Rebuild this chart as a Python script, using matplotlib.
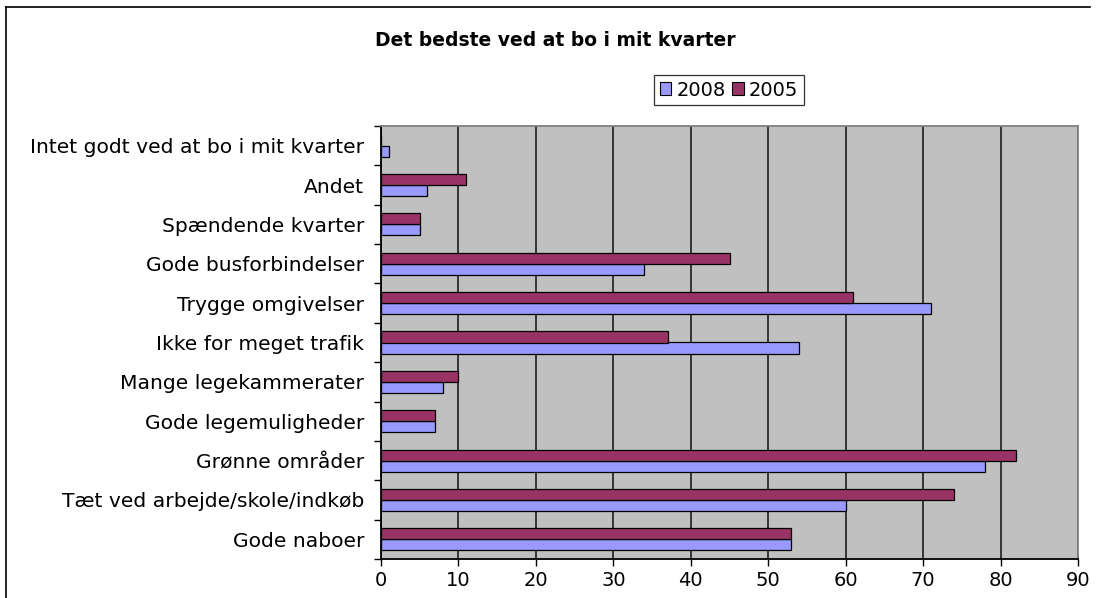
import numpy as np
import matplotlib
matplotlib.use("Agg")
import matplotlib.pyplot as plt
from matplotlib.lines import Line2D
from matplotlib.patches import Patch

# data (bottom to top, as drawn)
categories = ["Gode naboer", "Tæt ved arbejde/skole/indkøb", "Grønne områder",
              "Gode legemuligheder", "Mange legekammerater", "Ikke for meget trafik",
              "Trygge omgivelser", "Gode busforbindelser", "Spændende kvarter",
              "Andet", "Intet godt ved at bo i mit kvarter"]
values_2008 = [53, 60, 78, 7, 8, 54, 71, 34, 5, 6, 1]
values_2005 = [53, 74, 82, 7, 10, 37, 61, 45, 5, 11, 0]
x_ticks = list(range(0, 91, 10))

COLOR_2008 = "#9999FF"
COLOR_2005 = "#993366"
PLOT_BG = "#C0C0C0"

plt.rcParams['font.family'] = ['DejaVu Sans']

fig = plt.figure(figsize=(10.96, 5.98), dpi=100)
ax = fig.add_axes([381/1096, 1 - 559/598, (1078 - 381)/1096, (559 - 126)/598])
ax.set_facecolor(PLOT_BG)

y = np.arange(len(categories))
h = 0.28
ax.barh(y - h/2, values_2008, height=h, color=COLOR_2008, edgecolor="black", linewidth=0.9, zorder=3)
ax.barh(y + h/2, values_2005, height=h, color=COLOR_2005, edgecolor="black", linewidth=0.9, zorder=3)

ax.set_xlim(0, 90)
ax.set_ylim(-0.5, len(categories) - 0.5)
ax.set_xticks(x_ticks)
ax.tick_params(axis='x', length=5, width=1, direction='out', labelsize=14, pad=4)
ax.xaxis.grid(True, color="#2a2a2a", linewidth=1.3, zorder=1)
ax.set_axisbelow(True)

ax.set_yticks(y)
ax.set_yticklabels(categories)
ax.tick_params(axis='y', which='major', length=0, labelsize=14.6, pad=12)
ax.set_yticks(np.arange(-0.5, len(categories)), minor=True)
ax.tick_params(axis='y', which='minor', length=5, width=1, direction='out')

ax.spines['left'].set_color("black")
ax.spines['bottom'].set_color("black")
ax.spines['top'].set_color("#808080")
ax.spines['right'].set_color("#808080")
for s in ax.spines.values():
    s.set_linewidth(1.3)

fig.text(555/1096, 1 - 40/598, "Det bedste ved at bo i mit kvarter", ha='center', va='center',
         fontsize=13.5, fontweight='bold')

handles = [Patch(facecolor=COLOR_2008, edgecolor="black", linewidth=0.8, label="2008"),
           Patch(facecolor=COLOR_2005, edgecolor="black", linewidth=0.8, label="2005")]
leg = fig.legend(handles=handles, loc='center', bbox_to_anchor=(729/1096, 1 - 90/598), ncol=2,
                 fontsize=14, frameon=True, fancybox=False, handlelength=0.6, handleheight=0.6,
                 handletextpad=0.25, columnspacing=0.35, borderpad=0.3, borderaxespad=0)
leg.get_frame().set_edgecolor("black")
leg.get_frame().set_linewidth(0.9)

# chart frame (top and left edges visible)
fig.add_artist(Line2D([6/1096, 1090/1096], [1 - 7/598, 1 - 7/598], transform=fig.transFigure,
                      color="black", linewidth=1.2))
fig.add_artist(Line2D([6/1096, 6/1096], [1 - 7/598, 0], transform=fig.transFigure,
                      color="black", linewidth=1.2))

fig.savefig("out.png", dpi=100, facecolor="white")
